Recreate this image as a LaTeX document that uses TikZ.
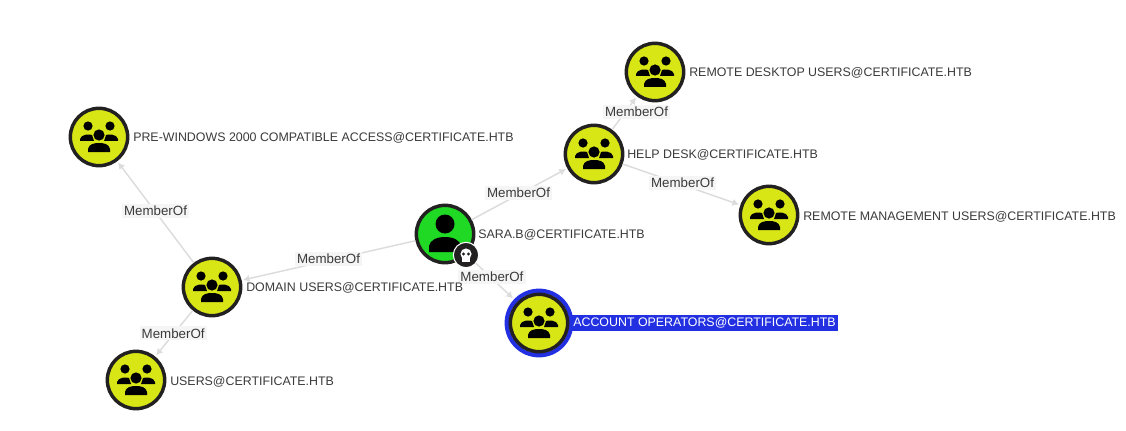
\documentclass[tikz,border=0pt]{standalone}
\usepackage{fontspec}
\setmainfont{Liberation Sans}
\usetikzlibrary{arrows.meta, positioning}
\definecolor{NodeRing}{RGB}{34, 32, 32}
\definecolor{GroupYellow}{RGB}{217, 230, 22}
\definecolor{UserGreen}{RGB}{31, 217, 36}
\definecolor{EdgeGray}{RGB}{220, 220, 220}
\definecolor{TagGray}{RGB}{245, 245, 245}
\definecolor{TextGray}{RGB}{58, 58, 58}
\definecolor{PickBlue}{RGB}{34, 48, 226}
\newcommand{\groupicon}{
    \fill[black] (-11,-11) circle (4.6);
    \fill[black] (11,-11) circle (4.6);
    \fill[black] (0,-2) circle (5.6);
    \fill[black] (-19,4) -- (-19,2) .. controls (-18,-3) and (-9,-3) .. (-7,-2) -- (-5,4) -- cycle;
    \fill[black] (19,4) -- (19,2) .. controls (18,-3) and (9,-3) .. (7,-2) -- (5,4) -- cycle;
    \fill[black] (-11,15) -- (-11,12) .. controls (-10,7) and (-5,6) .. (0,6) .. controls (5,6) and (10,7) .. (11,12) -- (11,15) -- cycle;
}
\newcommand{\usericon}{
    \fill[black] (0,-10) circle (9.5);
    \fill[black] (-16,18) -- (-16,12) .. controls (-15,6) and (-8,3) .. (0,3) .. controls (8,3) and (15,6) .. (16,12) -- (16,18) -- cycle;
}
\tikzset{
    groupnode/.style={circle, draw=NodeRing, line width=2.6pt, fill=GroupYellow, minimum size=43pt, inner sep=0pt,
        path picture={\begin{scope}[shift={(path picture bounding box.center)}]\groupicon\end{scope}}},
    usernode/.style={circle, draw=NodeRing, line width=2.6pt, fill=UserGreen, minimum size=43pt, inner sep=0pt,
        path picture={\begin{scope}[shift={(path picture bounding box.center)}]\usericon\end{scope}}},
    namelabel/.style={font=\fontsize{9.3pt}{11pt}\selectfont, text=TextGray, inner sep=0pt, anchor=west},
    edgelabel/.style={font=\fontsize{10pt}{12pt}\selectfont, text=TextGray, fill=TagGray, inner sep=1.6pt, yshift=1pt},
    memberof/.style={-{Latex[length=5pt, width=5.5pt]}, line width=1.1pt, color=EdgeGray, shorten >=1pt}
}
\begin{document}
\begin{tikzpicture}[x=0.75pt, y=-0.75pt]
    \useasboundingbox (0,0) rectangle (1126,431);

    \node[usernode] (sara) at (445,234) {};
    \node[groupnode] (domain) at (212,287) {};
    \node[groupnode] (prewin) at (99,137) {};
    \node[groupnode] (users) at (136,380) {};
    \node[groupnode] (help) at (594,154) {};
    \node[groupnode] (desktop) at (655,72) {};
    \node[groupnode] (mgmt) at (769,215) {};
    \node[circle, draw=PickBlue, line width=3.2pt, minimum size=48.4pt, inner sep=0pt] (accountring) at (539,323) {};
    \node[groupnode] (account) at (539,323) {};

    \draw[memberof] (sara) -- node[edgelabel, pos=0.49] {MemberOf} (help);
    \draw[memberof] (sara) -- node[edgelabel, pos=0.5] {MemberOf} (domain);
    \draw[memberof] (sara) -- node[edgelabel, pos=0.53] {MemberOf} (accountring);
    \draw[memberof] (domain) -- node[edgelabel, pos=0.5] {MemberOf} (prewin);
    \draw[memberof] (domain) -- node[edgelabel, pos=0.55, xshift=0.8pt, yshift=0.8pt] {MemberOf} (users);
    \draw[memberof] (help) -- node[edgelabel, pos=0.5, xshift=9pt] {MemberOf} (desktop);
    \draw[memberof] (help) -- node[edgelabel, pos=0.5, xshift=0.8pt] {MemberOf} (mgmt);

    \node[circle, fill=NodeRing, draw=white, line width=0.8pt, minimum size=19pt, inner sep=0pt] (badge) at (466,255) {};
    \fill[white] (badge.center) ++(0,-1) circle (5.6);
    \node[fill=white, minimum width=5.5pt, minimum height=4pt, inner sep=0pt] (jaw) at (466,259) {};
    \fill[NodeRing] (463.5,254) circle (1.6) (468.5,254) circle (1.6);

    \node[namelabel] (sarat) at (478,235) {SARA.B@CERTIFICATE.HTB};
    \node[namelabel] (domaint) at (246,288) {DOMAIN USERS@CERTIFICATE.HTB};
    \node[namelabel] (prewint) at (133,138) {PRE-WINDOWS 2000 COMPATIBLE ACCESS@CERTIFICATE.HTB};
    \node[namelabel] (userst) at (170,382) {USERS@CERTIFICATE.HTB};
    \node[namelabel] (helpt) at (627,155) {HELP DESK@CERTIFICATE.HTB};
    \node[namelabel] (desktopt) at (689,73) {REMOTE DESKTOP USERS@CERTIFICATE.HTB};
    \node[namelabel] (mgmtt) at (803,217) {REMOTE MANAGEMENT USERS@CERTIFICATE.HTB};
    \node[namelabel, fill=PickBlue, text=white, inner xsep=1.5pt, inner ysep=2pt] (accountt) at (571,323) {ACCOUNT OPERATORS@CERTIFICATE.HTB};
\end{tikzpicture}
\end{document}
